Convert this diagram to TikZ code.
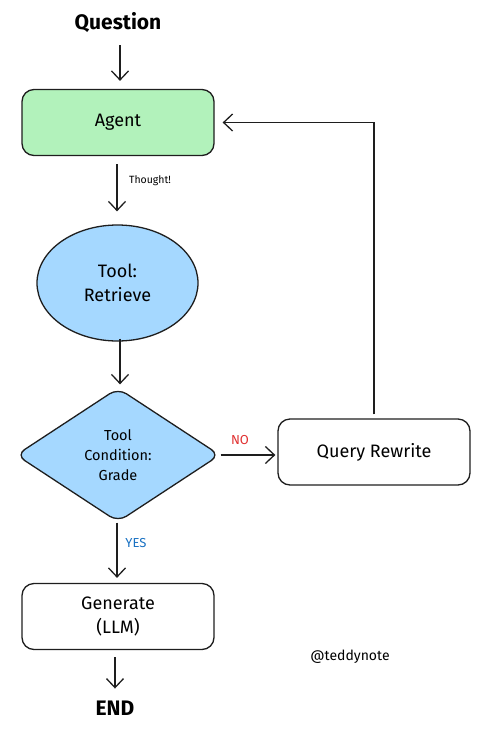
\documentclass[tikz,border=0pt]{standalone}
\usepackage{fontspec}
\setmainfont{Fira Sans}
\usetikzlibrary{arrows.meta,shapes.geometric}
\definecolor{ink}{HTML}{1E1E1E}
\definecolor{agentgreen}{HTML}{B2F2BB}
\definecolor{toolblue}{HTML}{A5D8FF}
\definecolor{nored}{HTML}{E03131}
\definecolor{yesblue}{HTML}{1971C2}
\begin{document}
\begin{tikzpicture}[x=1pt,y=-1pt,
    box/.style={draw=ink,line width=1.3pt,rounded corners=12pt,minimum width=192pt,
        minimum height=66pt,align=center,font=\fontsize{18}{24}\selectfont},
    arr/.style={draw=ink,line width=1.3pt,-{Straight Barb[length=9pt,width=17pt,line width=1.3pt]}},
    term/.style={inner sep=0pt,font=\fontsize{21}{24}\selectfont\bfseries},
    lbl/.style={inner sep=1pt,font=\fontsize{13}{15}\selectfont}]
			\useasboundingbox (0,0) rectangle (480,732);
			\node[term] (q) at (118,23){Question};
			\node[box,fill=agentgreen] (agent) at (118,122.5){Agent};
			\node[draw=ink,line width=1.3pt,fill=toolblue,ellipse,minimum width=161pt,minimum height=116pt,
				align=center,font=\fontsize{18}{24}\selectfont] (tool) at (117.5,283){Tool:\\Retrieve};
			\node[draw=ink,line width=1.3pt,fill=toolblue,diamond,rounded corners=10pt,minimum width=204pt,
				minimum height=134pt,inner sep=0pt,align=center,font=\fontsize{14.5}{20}\selectfont] (grade) at (118,455){Tool\\Condition:\\Grade};
			\node[box] (rewrite) at (374,452){Query Rewrite};
			\node[box] (gen) at (118,616.5){Generate\\(LLM)};
			\node[term] (end) at (115,708){END};
			\node[lbl,font=\fontsize{14}{16}\selectfont] (tag) at (350,657){@teddynote};
			\draw[arr,shorten <=12pt,shorten >=8pt] (q.south -| 120,0) -- (agent.north -| 120,0);
			\draw[arr,shorten <=8pt,shorten >=13pt] (agent.south -| 117,0) -- (tool.north -| 117,0);
			\node[lbl,font=\fontsize{10.5}{12}\selectfont] (thought) at (150,181){Thought!};
			\draw[arr,shorten <=-3pt,shorten >=3pt] (tool.south -| 120,0) -- (grade.north -| 120,0);
			\draw[arr,shorten >=2pt] (grade.east) -- (grade.east -| rewrite.west);
			\node[lbl,text=nored] (no) at (240,440){NO};
			\draw[arr,shorten <=4pt,shorten >=8pt] (rewrite.north) |- (agent.east);
			\draw[arr,shorten >=5pt] (grade.south -| 117,0) -- (gen.north -| 117,0);
			\node[lbl,text=yesblue] (yes) at (136,543){YES};
			\draw[arr,shorten <=7pt,shorten >=12pt] (gen.south -| 115,0) -- (end.north -| 115,0);
		\end{tikzpicture}
\end{document}
